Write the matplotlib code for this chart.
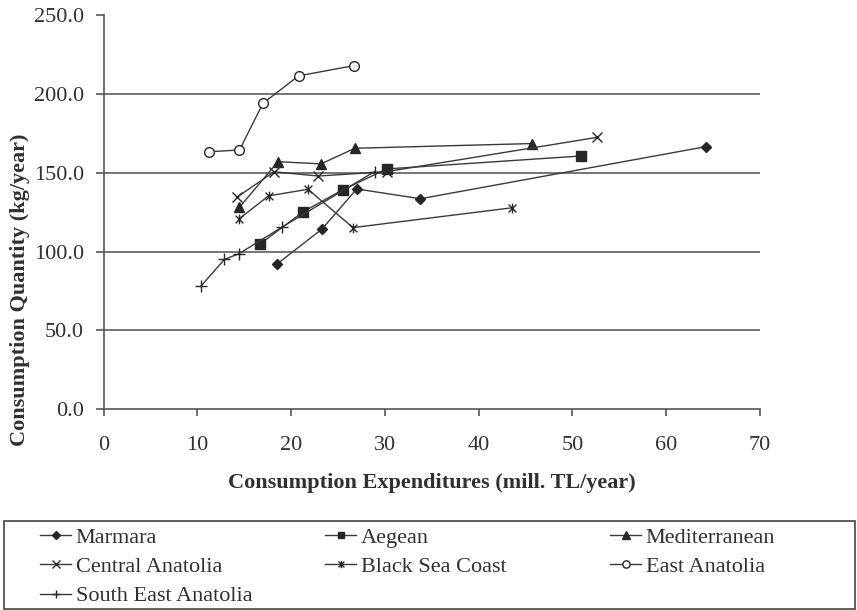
import matplotlib
matplotlib.use("Agg")
import matplotlib.pyplot as plt
from matplotlib.path import Path
from matplotlib.patches import Rectangle

plt.rcParams['font.family'] = ['Liberation Serif', 'DejaVu Serif']

# ---- data ----
regions = ["Marmara", "Aegean", "Mediterranean", "Central Anatolia",
           "Black Sea Coast", "East Anatolia", "South East Anatolia"]

marmara_x = [18.5, 23.3, 27.0, 33.8, 64.2]
marmara_y = [92.1, 114.3, 139.7, 133.5, 166.5]

aegean_x = [16.7, 21.3, 25.5, 30.2, 50.9]
aegean_y = [104.8, 125.3, 139.1, 152.4, 160.6]

medit_x = [14.5, 18.6, 23.2, 26.8, 45.7]
medit_y = [128.1, 157.0, 155.6, 165.5, 168.5]

central_x = [14.2, 18.2, 22.9, 30.2, 52.6]
central_y = [134.4, 150.6, 147.9, 150.7, 172.4]

black_x = [14.4, 17.6, 21.8, 26.6, 43.6]
black_y = [120.5, 135.3, 139.5, 115.2, 127.8]

east_x = [11.2, 14.5, 17.0, 20.8, 26.7]
east_y = [163.3, 164.4, 194.0, 211.4, 217.9]

seast_x = [10.4, 12.9, 14.4, 19.0, 28.9]
seast_y = [78.2, 95.1, 98.5, 115.4, 150.7]

x_ticks = [0, 10, 20, 30, 40, 50, 60, 70]
y_ticks = [0, 50, 100, 150, 200, 250]
y_ticklabels = ["0.0", "50.0", "100.0", "150.0", "200.0", "250.0"]

# ---- figure ----
W, H = 857, 610
fig = plt.figure(figsize=(W / 100, H / 100), dpi=100)
ax = fig.add_axes([103.5 / W, 1 - 409.3 / H, (760 - 103.5) / W, (409.3 - 15) / H])

line_col = '#3a3a3a'
mk_col = '#262626'
txt_col = '#303030'

ast = Path([(-1, -1), (1, 1), (-1, 1), (1, -1), (0, -1.25), (0, 1.25)],
           [Path.MOVETO, Path.LINETO, Path.MOVETO, Path.LINETO, Path.MOVETO, Path.LINETO])

series = [
    (marmara_x, marmara_y, dict(marker='D', ms=5, mfc=mk_col, mec=mk_col)),
    (aegean_x, aegean_y, dict(marker='s', ms=6.5, mfc=mk_col, mec=mk_col)),
    (medit_x, medit_y, dict(marker='^', ms=7, mfc=mk_col, mec=mk_col)),
    (central_x, central_y, dict(marker='x', ms=7, mec=mk_col, mew=1.0)),
    (black_x, black_y, dict(marker=ast, ms=7, mec=mk_col, mew=1.0)),
    (east_x, east_y, dict(marker='o', ms=7, mfc='white', mec=mk_col, mew=1.0)),
    (seast_x, seast_y, dict(marker='+', ms=8, mec=mk_col, mew=1.0)),
]

handles = []
for (xs, ys, kw), name in zip(series, regions):
    h, = ax.plot(xs, ys, color=line_col, lw=1.0, label=name, zorder=3, **kw)
    handles.append(h)

ax.set_xlim(0, 70)
ax.set_ylim(0, 250)
ax.set_xticks(x_ticks)
ax.set_yticks(y_ticks)
ax.set_yticklabels(y_ticklabels)

for yv in [50, 100, 150, 200]:
    ax.axhline(yv, color='#6a6a6a', lw=1.3, zorder=1)

for s in ['top', 'right']:
    ax.spines[s].set_visible(False)
for s in ['left', 'bottom']:
    ax.spines[s].set_color('#555555')
    ax.spines[s].set_linewidth(1.2)

ax.tick_params(axis='both', direction='out', color='#555555', width=1.2,
               labelsize=16, labelcolor=txt_col)
ax.tick_params(axis='y', length=6, pad=8)
ax.tick_params(axis='x', length=5, pad=14)

ax.set_xlabel("Consumption Expenditures (mill. TL/year)", fontsize=16,
              fontweight='bold', color=txt_col)
ax.xaxis.set_label_coords(0.5, -(483 - 409.3) / (409.3 - 15), transform=ax.transAxes)
ax.xaxis.label.set_va('center')
ax.set_ylabel("Consumption Quantity (kg/year)", fontsize=16,
              fontweight='bold', color=txt_col)
ax.yaxis.label.set_va('center')
ax.yaxis.set_label_coords((20 - 103.5) / (760 - 103.5), (409.3 - 290) / (409.3 - 15))

# ---- legend box ----
fig.patches.append(Rectangle((4 / W, 1 - 609 / H), (855 - 4) / W, (609 - 521) / H,
                             transform=fig.transFigure, fill=False,
                             edgecolor='#444444', lw=1.2))

cols = [[0, 3, 6], [1, 4], [2, 5]]
col_x = [40, 325, 610]
for idx, cx in zip(cols, col_x):
    fig.legend([handles[i] for i in idx], [regions[i] for i in idx],
               loc='upper left', bbox_to_anchor=(cx / W, 1 - 527 / H),
               frameon=False, fontsize=16, handlelength=1.4, handletextpad=0.2,
               borderpad=0, borderaxespad=0, labelspacing=0.4, labelcolor=txt_col,
               markerscale=0.75)

fig.savefig("out.png", dpi=100)
